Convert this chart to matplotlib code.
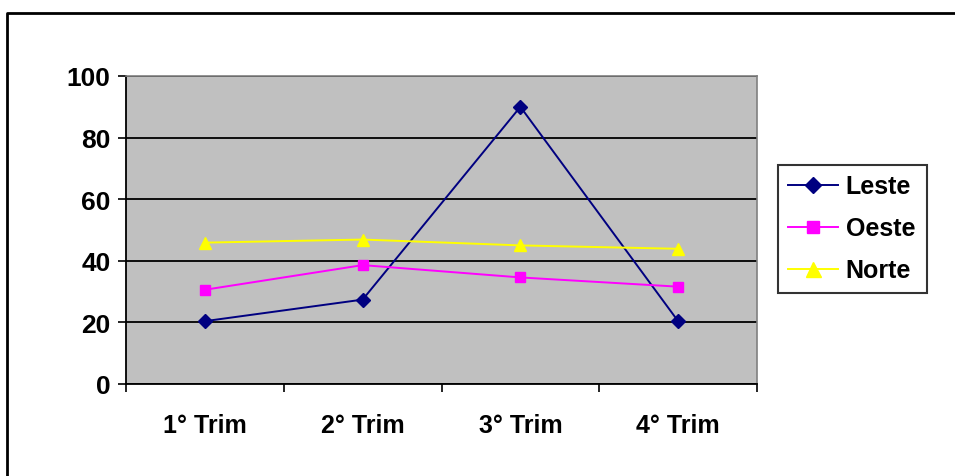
import matplotlib.pyplot as plt
from matplotlib.lines import Line2D

plt.rcParams['font.family'] = ['Liberation Sans', 'DejaVu Sans']

trimestres = ["1° Trim", "2° Trim", "3° Trim", "4° Trim"]
leste = [20.4, 27.4, 90, 20.4]
oeste = [30.6, 38.6, 34.6, 31.6]
norte = [45.9, 46.9, 45, 43.9]

fig = plt.figure(figsize=(9.55, 4.77), dpi=100)
ax = fig.add_axes([126 / 955, 1 - 385 / 477, (757 - 126) / 955, (385 - 77) / 477])
ax.set_facecolor("#c0c0c0")

x = [i + 0.5 for i in range(len(trimestres))]
ax.plot(x, leste, color="#000080", marker="D", markersize=7, lw=1.4, label="Leste")
ax.plot(x, oeste, color="#ff00ff", marker="s", markersize=7, lw=1.4, label="Oeste")
ax.plot(x, norte, color="#ffff00", marker="^", markersize=9, lw=1.4, label="Norte")

ax.set_xlim(0, 4)
ax.set_ylim(0, 100)
ax.set_yticks(range(0, 101, 20))
ax.yaxis.grid(True, color="black", lw=1.3)
ax.set_axisbelow(True)

ax.set_xticks(range(5))
ax.set_xticklabels([])
ax.set_xticks(x, minor=True)
ax.set_xticklabels(trimestres, minor=True)
ax.tick_params(axis="x", which="minor", length=0, pad=21, labelsize=18)
ax.tick_params(axis="x", which="major", length=6, width=1.2, direction="out")
ax.tick_params(axis="y", length=6, width=1.2, labelsize=19, pad=5)
for lab in ax.get_yticklabels() + ax.get_xticklabels(minor=True):
    lab.set_fontweight("bold")

for side in ["top", "right"]:
    ax.spines[side].set_color("#808080")
    ax.spines[side].set_linewidth(1.2)
for side in ["left", "bottom"]:
    ax.spines[side].set_color("black")
    ax.spines[side].set_linewidth(1.3)

leg = ax.legend(loc="center left", bbox_to_anchor=(778 / 955, 1 - 293 / 477, (927 - 778) / 955, (293 - 166) / 477),
                bbox_transform=fig.transFigure, mode="expand", frameon=True, fancybox=False,
                prop={"weight": "bold", "size": 18}, handlelength=2.0, borderpad=0.4,
                labelspacing=0.72, handletextpad=0.3, borderaxespad=0, markerscale=1.2)
leg.get_frame().set_edgecolor("black")
leg.get_frame().set_linewidth(1.5)

# moldura externa do gráfico
fig.add_artist(Line2D([7 / 955, 7 / 955, 1.0], [0, 1 - 14 / 477, 1 - 14 / 477],
                      transform=fig.transFigure, color="black", lw=2))

fig.savefig("out.png", dpi=100)
